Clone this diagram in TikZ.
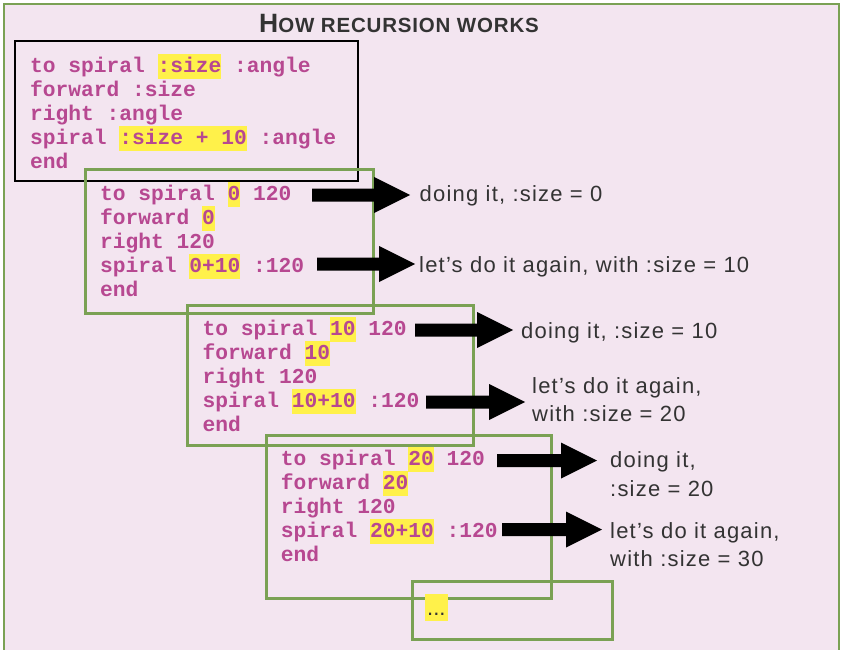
\documentclass[tikz,border=0pt]{standalone}
\usepackage{fontspec}
\setmainfont{Liberation Sans}
\newfontfamily\codefont{Liberation Mono}
\newfontfamily\lblfont{Liberation Sans}[LetterSpace=5.5]
\newfontfamily\titlefont{Liberation Sans}[LetterSpace=4]
\usetikzlibrary{calc}
\definecolor{bgpink}{RGB}{243,229,240}
\definecolor{framegreen}{RGB}{122,161,84}
\definecolor{codemag}{RGB}{183,72,145}
\definecolor{hlyellow}{RGB}{255,241,74}
\definecolor{lblgray}{RGB}{51,51,51}
\newcommand\hl[1]{{\setlength{\fboxsep}{0pt}\colorbox{hlyellow}{\rule[-6.5pt]{0pt}{25.5pt}#1}}}
\newcommand\blockarrow[2]{%
  \fill[black] ($(#1)+(0,-6.5)$) -- ($(#2)+(-36,-6.5)$) -- ($(#2)+(-36,-18)$) -- (#2)
    -- ($(#2)+(-36,18)$) -- ($(#2)+(-36,6.5)$) -- ($(#1)+(0,6.5)$) -- cycle;}
\tikzset{
  code/.style={anchor=base west, inner sep=0pt, text=codemag,
    font=\codefont\bfseries\fontsize{21.25}{24}\selectfont},
  lbl/.style={anchor=base west, inner sep=0pt, text=lblgray,
    font=\lblfont\fontsize{22}{28}\selectfont},
  greenbox/.style={draw=framegreen, line width=3pt},
  blackbox/.style={draw=black, line width=2pt},
}
\begin{document}
\begin{tikzpicture}[x=1pt,y=-1pt]
\useasboundingbox (0,0) rectangle (843,650);
\fill[white] (0,0) rectangle (843,650);
\clip (0,0) rectangle (843,650);
% outer frame
\draw[draw=framegreen, fill=bgpink, line width=2.5pt] (4,4) rectangle (839,670);
% title
\node[anchor=base, inner sep=0pt, text=lblgray] (title) at (399,33)
  {\titlefont\bfseries{\fontsize{26.5}{26}\selectfont H}{\fontsize{20.5}{20}\selectfont OW RECURSION WORKS}};
% box 0
\draw[blackbox] (15,41) rectangle (358,181);
\node[code] (c0a) at (30,72.7) {to spiral \hl{:size} :angle};
\node[code] (c0b) at (30,96.7) {forward :size};
\node[code] (c0c) at (30,120.7) {right :angle};
\node[code] (c0d) at (30,144.7) {spiral \hl{:size + 10} :angle};
\node[code] (c0e) at (30,168.7) {end};
% box 1
\draw[greenbox] (85,169) rectangle (373,313);
\node[code] (c1a) at (100,200.7) {to spiral \hl{0} 120};
\node[code] (c1b) at (100,224.7) {forward \hl{0}};
\node[code] (c1c) at (100,248.7) {right 120};
\node[code] (c1d) at (100,272.7) {spiral \hl{0+10} :120};
\node[code] (c1e) at (100,296.7) {end};
% box 2
\draw[greenbox] (187,305) rectangle (473,445);
\node[code] (c2a) at (202.5,335.7) {to spiral \hl{10} 120};
\node[code] (c2b) at (202.5,359.7) {forward \hl{10}};
\node[code] (c2c) at (202.5,383.7) {right 120};
\node[code] (c2d) at (202.5,407.7) {spiral \hl{10+10} :120};
\node[code] (c2e) at (202.5,431.7) {end};
% box 3
\draw[greenbox] (266,435) rectangle (551,598);
\node[code] (c3a) at (280.7,465.7) {to spiral \hl{20} 120};
\node[code] (c3b) at (280.7,489.7) {forward \hl{20}};
\node[code] (c3c) at (280.7,513.7) {right 120};
\node[code] (c3d) at (280.7,537.7) {spiral \hl{20+10} :120};
\node[code] (c3e) at (280.7,561.7) {end};
% box 4
\draw[greenbox] (412,581) rectangle (612,639);
\node[anchor=base west, inner sep=0pt, text=lblgray] (dots) at (425,615)
  {\fontsize{22}{24}\selectfont{\setlength{\fboxsep}{0pt}\colorbox{hlyellow}{\rule[-5.5pt]{0pt}{27pt}\hspace{2pt}...\hspace{2pt}}}};
% labels
\node[lbl] (l1) at (419.5,201.5) {doing it, :size = 0};
\node[lbl] (l2) at (419,272) {let’s do it again, with :size = 10};
\node[lbl] (l3) at (521,338) {doing it, :size = 10};
\node[lbl] (l4a) at (532,393) {let’s do it again,};
\node[lbl] (l4b) at (532,421.5) {with :size = 20};
\node[lbl] (l5a) at (610,467.7) {doing it,};
\node[lbl] (l5b) at (610,496.7) {:size = 20};
\node[lbl] (l6a) at (610,538.3) {let’s do it again,};
\node[lbl] (l6b) at (610,566.7) {with :size = 30};
% arrows
\coordinate (a1s) at (312,195);   \coordinate (a1e) at (410,195);
\coordinate (a2s) at (317,264);   \coordinate (a2e) at (415,264);
\coordinate (a3s) at (415,330);   \coordinate (a3e) at (513,330);
\coordinate (a4s) at (426,402);   \coordinate (a4e) at (525,402);
\coordinate (a5s) at (497,460.5); \coordinate (a5e) at (597,460.5);
\coordinate (a6s) at (502,529.5); \coordinate (a6e) at (602,529.5);
\blockarrow{a1s}{a1e}
\blockarrow{a2s}{a2e}
\blockarrow{a3s}{a3e}
\blockarrow{a4s}{a4e}
\blockarrow{a5s}{a5e}
\blockarrow{a6s}{a6e}
\end{tikzpicture}
\end{document}
